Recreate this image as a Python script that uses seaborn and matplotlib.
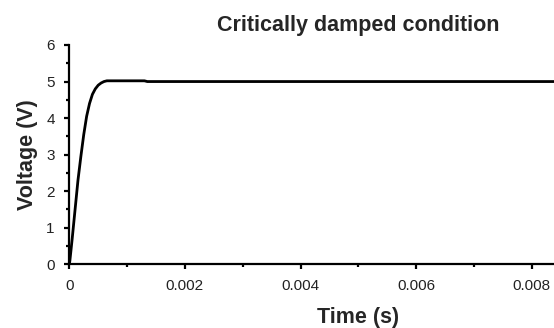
import matplotlib
matplotlib.use("Agg")
import matplotlib.pyplot as plt
import seaborn as sns
import pandas as pd
from matplotlib.ticker import MultipleLocator

# Data
time_s = [0.0, 0.00001, 0.00005, 0.0001, 0.00015, 0.0002, 0.00025, 0.0003,
          0.00035, 0.0004, 0.00045, 0.0005, 0.00055, 0.0006, 0.00065, 0.0007,
          0.0013, 0.00135, 0.0100]
voltage_v = [0.0, 0.1, 0.7, 1.5, 2.3, 2.95, 3.55, 4.05,
             4.4, 4.65, 4.8, 4.9, 4.96, 5.0, 5.02, 5.02,
             5.02, 5.0, 5.0]
x_ticks = [0, 0.002, 0.004, 0.006, 0.008]
x_tick_labels = ["0", "0.002", "0.004", "0.006", "0.008"]
y_ticks = [0, 1, 2, 3, 4, 5, 6]

df = pd.DataFrame({"Time (s)": time_s, "Voltage (V)": voltage_v})

sns.set_theme(style="ticks")
plt.rcParams["font.family"] = ["Liberation Sans", "DejaVu Sans"]

fig = plt.figure(figsize=(5.54, 3.28), dpi=100)
ax = fig.add_axes([69.3 / 554, 1 - 264.3 / 328, 578 / 554, 219.3 / 328])

sns.lineplot(data=df, x="Time (s)", y="Voltage (V)", ax=ax, color="black",
             linewidth=2.0, estimator=None, sort=False)

ax.set_xlim(0, 0.010)
ax.set_ylim(0, 6)
ax.set_xticks(x_ticks)
ax.set_xticklabels(x_tick_labels)
ax.set_yticks(y_ticks)
ax.xaxis.set_minor_locator(MultipleLocator(0.001))
ax.yaxis.set_minor_locator(MultipleLocator(0.5))

for s in ["top", "right"]:
    ax.spines[s].set_visible(False)
for s in ["left", "bottom"]:
    ax.spines[s].set_linewidth(1.6)
    ax.spines[s].set_color("black")

ax.tick_params(axis="both", which="major", direction="out", length=3.5, width=1.6,
               labelsize=11, colors="black", labelcolor="#222222")
ax.tick_params(axis="x", which="major", pad=7)
ax.tick_params(axis="y", which="major", pad=7)
ax.tick_params(axis="both", which="minor", direction="out", length=2, width=1.6,
               colors="black")

ax.set_xlabel("Time (s)", fontsize=15.5, fontweight="bold", labelpad=10)
ax.set_ylabel("Voltage (V)", fontsize=15.5, fontweight="bold", labelpad=6)
ax.set_title("Critically damped condition", fontsize=15.5, fontweight="bold", pad=10)

fig.savefig("out.png", dpi=100)
